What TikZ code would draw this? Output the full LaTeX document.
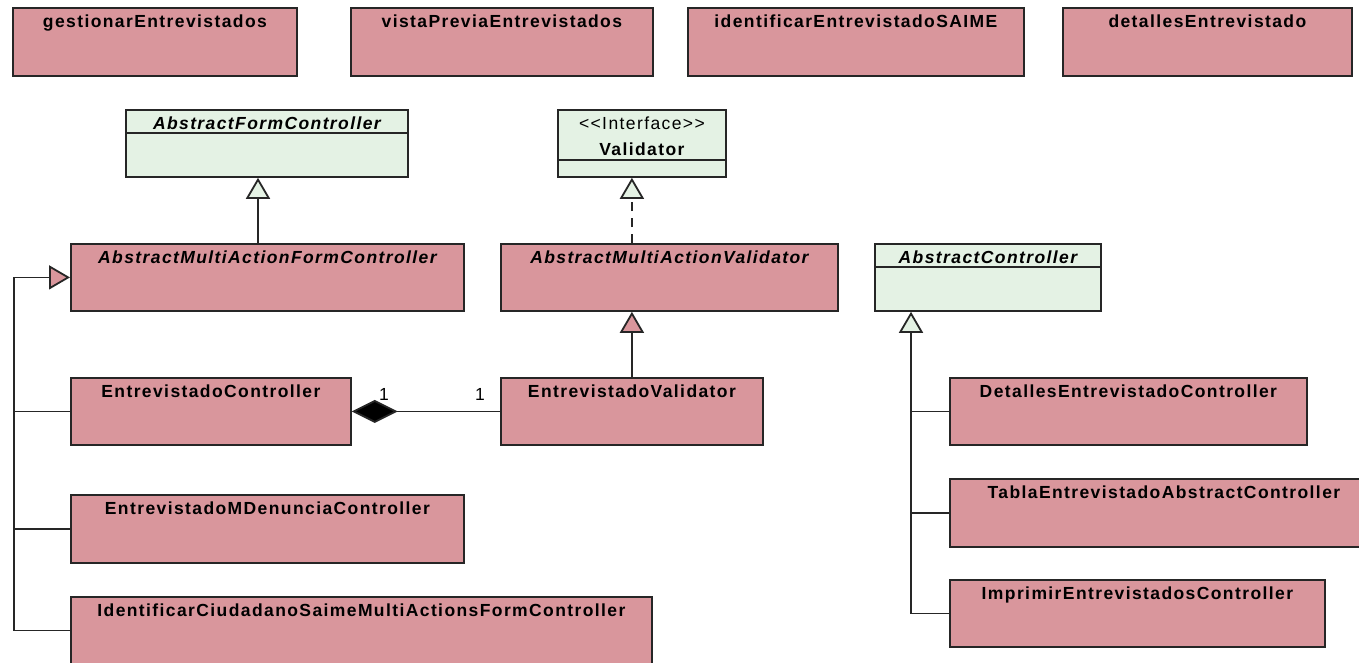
\documentclass[tikz,border=0pt]{standalone}
\usepackage{fontspec}
\setmainfont{Liberation Sans}
\newfontfamily\umlfont[LetterSpace=8]{Liberation Sans}
\usetikzlibrary{arrows.meta}

\definecolor{classpink}{RGB}{217,150,156}
\definecolor{classgreen}{RGB}{228,242,228}
\definecolor{umlline}{RGB}{38,38,38}

\tikzset{
  classbox/.style={draw=umlline, line width=1.8pt, anchor=north west, inner sep=0pt, rectangle},
  pinkclass/.style={classbox, fill=classpink},
  greenclass/.style={classbox, fill=classgreen},
  classname/.style={anchor=north, inner sep=0pt, text=black,
    font=\umlfont\fontsize{17.5}{20}\selectfont\bfseries},
  abstractname/.style={anchor=north, inner sep=0pt, text=black,
    font=\umlfont\fontsize{17.5}{20}\selectfont\bfseries\itshape},
  stereo/.style={anchor=north, inner sep=0pt, text=black,
    font=\umlfont\fontsize{17.5}{20}\selectfont},
  mult/.style={inner sep=0pt, text=black, font=\umlfont\fontsize{17.5}{20}\selectfont},
  umlconn/.style={draw=umlline, line width=1.8pt},
  inherit/.style={umlconn, -{Triangle[length=21pt,width=24pt,fill=#1]}},
  realize/.style={umlconn, dash pattern=on 9pt off 7pt, -{Triangle[length=21pt,width=24pt,fill=#1]}},
  compose/.style={umlconn, {Diamond[length=46pt,width=23pt,fill=black]}-},
  divider/.style={draw=umlline, line width=1.8pt},
}

\begin{document}
\begin{tikzpicture}[x=1pt,y=-1pt]
\useasboundingbox[fill=white] (0,0) rectangle (1359,662);
\begin{scope}
\clip (0,0) rectangle (1359,662);

% --- view classes (top row)
\node[pinkclass, minimum width=284pt, minimum height=68pt] (gest) at (12,7) {};
\node[pinkclass, minimum width=302pt, minimum height=68pt] (vista) at (350,7) {};
\node[pinkclass, minimum width=336pt, minimum height=68pt] (ident) at (687,7) {};
\node[pinkclass, minimum width=289pt, minimum height=68pt] (detv) at (1062,7) {};
\node[classname] (gestT) at ([yshift=-8]gest.north) {gestionarEntrevistados};
\node[classname] (vistaT) at ([yshift=-8]vista.north) {vistaPreviaEntrevistados};
\node[classname] (identT) at ([yshift=-8]ident.north) {identificarEntrevistadoSAIME};
\node[classname] (detvT) at ([yshift=-8]detv.north) {detallesEntrevistado};

% --- framework classes
\node[greenclass, minimum width=282pt, minimum height=67pt] (afc) at (125,109) {};
\draw[divider] ([yshift=-24]afc.north west) -- ([yshift=-24]afc.north east);
\node[abstractname] (afcT) at ([yshift=-8]afc.north) {AbstractFormController};

\node[greenclass, minimum width=168pt, minimum height=67pt] (val) at (557,109) {};
\draw[divider] ([yshift=-51]val.north west) -- ([yshift=-51]val.north east);
\node[stereo] (valS) at ([yshift=-8]val.north) {<<Interface>>};
\node[classname] (valT) at ([yshift=-34]val.north) {Validator};

\node[greenclass, minimum width=226pt, minimum height=67pt] (ac) at (874,243) {};
\draw[divider] ([yshift=-24]ac.north west) -- ([yshift=-24]ac.north east);
\node[abstractname] (acT) at ([yshift=-8]ac.north) {AbstractController};

% --- abstract application classes
\node[pinkclass, minimum width=393pt, minimum height=67pt] (amafc) at (70,243) {};
\node[abstractname] (amafcT) at ([yshift=-8]amafc.north) {AbstractMultiActionFormController};
\node[pinkclass, minimum width=337pt, minimum height=67pt] (amav) at (500,243) {};
\node[abstractname] (amavT) at ([yshift=-8]amav.north) {AbstractMultiActionValidator};

% --- concrete controllers and validator
\node[pinkclass, minimum width=280pt, minimum height=67pt] (ec) at (70,377) {};
\node[classname] (ecT) at ([yshift=-8]ec.north) {EntrevistadoController};
\node[pinkclass, minimum width=262pt, minimum height=67pt] (ev) at (500,377) {};
\node[classname] (evT) at ([yshift=-8]ev.north) {EntrevistadoValidator};
\node[pinkclass, minimum width=393pt, minimum height=68pt] (emdc) at (70,494) {};
\node[classname] (emdcT) at ([yshift=-8]emdc.north) {EntrevistadoMDenunciaController};
\node[pinkclass, minimum width=581pt, minimum height=67pt] (ics) at (70,596) {};
\node[classname] (icsT) at ([yshift=-8]ics.north) {IdentificarCiudadanoSaimeMultiActionsFormController};

\node[pinkclass, minimum width=357pt, minimum height=67pt] (dec) at (949,377) {};
\node[classname] (decT) at ([yshift=-8]dec.north) {DetallesEntrevistadoController};
\node[pinkclass, minimum width=428pt, minimum height=68pt] (teac) at (949,478) {};
\node[classname] (teacT) at ([yshift=-8]teac.north) {TablaEntrevistadoAbstractController};
\node[pinkclass, minimum width=375pt, minimum height=67pt] (iec) at (949,579) {};
\node[classname] (iecT) at ([yshift=-8]iec.north) {ImprimirEntrevistadosController};

% --- trunks of the inheritance trees
\coordinate (ltrunk) at (14,0);
\coordinate (rtrunk) at (911,0);
\coordinate (afcx) at (258,0);

% --- generalisations
\draw[inherit=classgreen] (amafc.north -| afcx) -- (afc.south -| afcx);
\draw[realize=classgreen] (amav.north -| ev.north) -- (val.south -| ev.north);
\draw[inherit=classpink] (ev.north) -- (amav.south -| ev.north);

\draw[inherit=classpink] (ics.west) -| (ltrunk |- amafc.west) -- (amafc.west);
\draw[umlconn] (ec.west) -- (ec.west -| ltrunk);
\draw[umlconn] (emdc.west) -- (emdc.west -| ltrunk);

\draw[inherit=classgreen] (iec.west) -| (rtrunk |- ac.south);
\draw[umlconn] (dec.west) -- (dec.west -| rtrunk);
\draw[umlconn] (teac.west) -- (teac.west -| rtrunk);

% --- composition
\draw[compose] (ec.east) -- (ev.west);
\node[mult] (m1) at (384,394) {1};
\node[mult] (m2) at (480,394) {1};
\end{scope}
\end{tikzpicture}
\end{document}
